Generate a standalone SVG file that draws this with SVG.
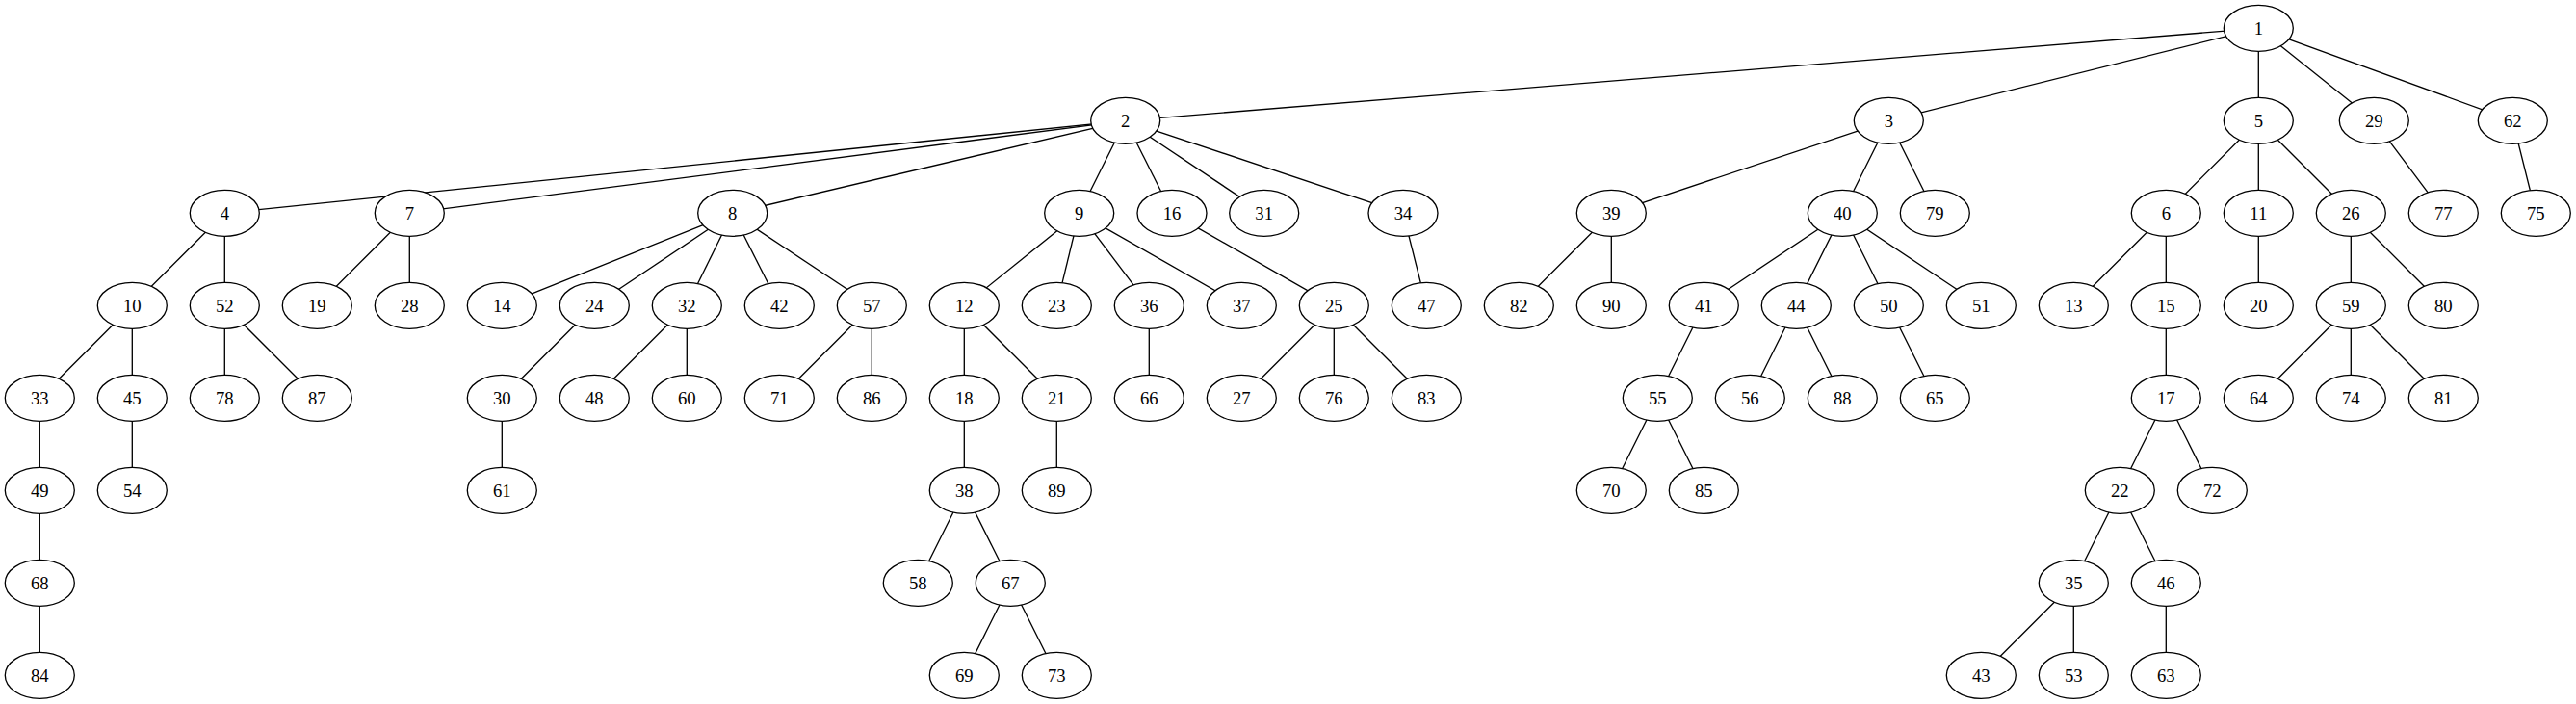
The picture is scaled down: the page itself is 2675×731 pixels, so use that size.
<svg xmlns="http://www.w3.org/2000/svg" width="2675" height="731" viewBox="0 0 2675 731">
<style>
.n ellipse{fill:#fff;stroke:#000;stroke-width:1.33}
.n text{font-family:'Liberation Serif','DejaVu Serif',serif;font-size:18.67px;text-anchor:middle;fill:#000}
#edges line{stroke:#000;stroke-width:1.33}
</style>
<rect width="2675" height="731" fill="#fff"/>
<g id="edges">
<line x1="2345.3" y1="29.3" x2="1168.7" y2="125.3"/>
<line x1="2345.3" y1="29.3" x2="1961.3" y2="125.3"/>
<line x1="2345.3" y1="29.3" x2="2345.3" y2="125.3"/>
<line x1="2345.3" y1="29.3" x2="2465.3" y2="125.3"/>
<line x1="2345.3" y1="29.3" x2="2609.3" y2="125.3"/>
<line x1="1168.7" y1="125.3" x2="233.3" y2="221.3"/>
<line x1="1168.7" y1="125.3" x2="425.3" y2="221.3"/>
<line x1="1168.7" y1="125.3" x2="760.7" y2="221.3"/>
<line x1="1168.7" y1="125.3" x2="1120.7" y2="221.3"/>
<line x1="1168.7" y1="125.3" x2="1217" y2="221.3"/>
<line x1="1168.7" y1="125.3" x2="1312.7" y2="221.3"/>
<line x1="1168.7" y1="125.3" x2="1457" y2="221.3"/>
<line x1="1961.3" y1="125.3" x2="1673.3" y2="221.3"/>
<line x1="1961.3" y1="125.3" x2="1913.3" y2="221.3"/>
<line x1="1961.3" y1="125.3" x2="2009.3" y2="221.3"/>
<line x1="2345.3" y1="125.3" x2="2249.3" y2="221.3"/>
<line x1="2345.3" y1="125.3" x2="2345.3" y2="221.3"/>
<line x1="2345.3" y1="125.3" x2="2441.3" y2="221.3"/>
<line x1="2465.3" y1="125.3" x2="2537.3" y2="221.3"/>
<line x1="2609.3" y1="125.3" x2="2633.3" y2="221.3"/>
<line x1="233.3" y1="221.3" x2="137.3" y2="317.3"/>
<line x1="233.3" y1="221.3" x2="233.3" y2="317.3"/>
<line x1="425.3" y1="221.3" x2="329.3" y2="317.3"/>
<line x1="425.3" y1="221.3" x2="425.3" y2="317.3"/>
<line x1="760.7" y1="221.3" x2="521.3" y2="317.3"/>
<line x1="760.7" y1="221.3" x2="617.3" y2="317.3"/>
<line x1="760.7" y1="221.3" x2="713.3" y2="317.3"/>
<line x1="760.7" y1="221.3" x2="809.3" y2="317.3"/>
<line x1="760.7" y1="221.3" x2="905.3" y2="317.3"/>
<line x1="1120.7" y1="221.3" x2="1001.3" y2="317.3"/>
<line x1="1120.7" y1="221.3" x2="1097.3" y2="317.3"/>
<line x1="1120.7" y1="221.3" x2="1193.3" y2="317.3"/>
<line x1="1120.7" y1="221.3" x2="1289.3" y2="317.3"/>
<line x1="1217" y1="221.3" x2="1385.3" y2="317.3"/>
<line x1="1457" y1="221.3" x2="1481.3" y2="317.3"/>
<line x1="1673.3" y1="221.3" x2="1577.3" y2="317.3"/>
<line x1="1673.3" y1="221.3" x2="1673.3" y2="317.3"/>
<line x1="1913.3" y1="221.3" x2="1769.3" y2="317.3"/>
<line x1="1913.3" y1="221.3" x2="1865.3" y2="317.3"/>
<line x1="1913.3" y1="221.3" x2="1961.3" y2="317.3"/>
<line x1="1913.3" y1="221.3" x2="2057.3" y2="317.3"/>
<line x1="2249.3" y1="221.3" x2="2153.3" y2="317.3"/>
<line x1="2249.3" y1="221.3" x2="2249.3" y2="317.3"/>
<line x1="2345.3" y1="221.3" x2="2345.3" y2="317.3"/>
<line x1="2441.3" y1="221.3" x2="2441.3" y2="317.3"/>
<line x1="2441.3" y1="221.3" x2="2537.3" y2="317.3"/>
<line x1="137.3" y1="317.3" x2="41.3" y2="413.3"/>
<line x1="137.3" y1="317.3" x2="137.3" y2="413.3"/>
<line x1="233.3" y1="317.3" x2="233.3" y2="413.3"/>
<line x1="233.3" y1="317.3" x2="329.3" y2="413.3"/>
<line x1="617.3" y1="317.3" x2="521.3" y2="413.3"/>
<line x1="713.3" y1="317.3" x2="617.3" y2="413.3"/>
<line x1="713.3" y1="317.3" x2="713.3" y2="413.3"/>
<line x1="905.3" y1="317.3" x2="809.3" y2="413.3"/>
<line x1="905.3" y1="317.3" x2="905.3" y2="413.3"/>
<line x1="1001.3" y1="317.3" x2="1001.3" y2="413.3"/>
<line x1="1001.3" y1="317.3" x2="1097.3" y2="413.3"/>
<line x1="1193.3" y1="317.3" x2="1193.3" y2="413.3"/>
<line x1="1385.3" y1="317.3" x2="1289.3" y2="413.3"/>
<line x1="1385.3" y1="317.3" x2="1385.3" y2="413.3"/>
<line x1="1385.3" y1="317.3" x2="1481.3" y2="413.3"/>
<line x1="1769.3" y1="317.3" x2="1721.3" y2="413.3"/>
<line x1="1865.3" y1="317.3" x2="1817.3" y2="413.3"/>
<line x1="1865.3" y1="317.3" x2="1913.3" y2="413.3"/>
<line x1="1961.3" y1="317.3" x2="2009.3" y2="413.3"/>
<line x1="2249.3" y1="317.3" x2="2249.3" y2="413.3"/>
<line x1="2441.3" y1="317.3" x2="2345.3" y2="413.3"/>
<line x1="2441.3" y1="317.3" x2="2441.3" y2="413.3"/>
<line x1="2441.3" y1="317.3" x2="2537.3" y2="413.3"/>
<line x1="41.3" y1="413.3" x2="41.3" y2="509.3"/>
<line x1="137.3" y1="413.3" x2="137.3" y2="509.3"/>
<line x1="521.3" y1="413.3" x2="521.3" y2="509.3"/>
<line x1="1001.3" y1="413.3" x2="1001.3" y2="509.3"/>
<line x1="1097.3" y1="413.3" x2="1097.3" y2="509.3"/>
<line x1="1721.3" y1="413.3" x2="1673.3" y2="509.3"/>
<line x1="1721.3" y1="413.3" x2="1769.3" y2="509.3"/>
<line x1="2249.3" y1="413.3" x2="2201.3" y2="509.3"/>
<line x1="2249.3" y1="413.3" x2="2297.3" y2="509.3"/>
<line x1="41.3" y1="509.3" x2="41.3" y2="605.3"/>
<line x1="1001.3" y1="509.3" x2="953.3" y2="605.3"/>
<line x1="1001.3" y1="509.3" x2="1049.3" y2="605.3"/>
<line x1="2201.3" y1="509.3" x2="2153.3" y2="605.3"/>
<line x1="2201.3" y1="509.3" x2="2249.3" y2="605.3"/>
<line x1="41.3" y1="605.3" x2="41.3" y2="701.3"/>
<line x1="1049.3" y1="605.3" x2="1001.3" y2="701.3"/>
<line x1="1049.3" y1="605.3" x2="1097.3" y2="701.3"/>
<line x1="2153.3" y1="605.3" x2="2057.3" y2="701.3"/>
<line x1="2153.3" y1="605.3" x2="2153.3" y2="701.3"/>
<line x1="2249.3" y1="605.3" x2="2249.3" y2="701.3"/>
</g>
<g id="n1" class="n"><ellipse cx="2345.3" cy="29.3" rx="36" ry="24"/><text x="2345.3" y="35.8">1</text></g>
<g id="n2" class="n"><ellipse cx="1168.7" cy="125.3" rx="36" ry="24"/><text x="1168.7" y="131.8">2</text></g>
<g id="n3" class="n"><ellipse cx="1961.3" cy="125.3" rx="36" ry="24"/><text x="1961.3" y="131.8">3</text></g>
<g id="n5" class="n"><ellipse cx="2345.3" cy="125.3" rx="36" ry="24"/><text x="2345.3" y="131.8">5</text></g>
<g id="n29" class="n"><ellipse cx="2465.3" cy="125.3" rx="36" ry="24"/><text x="2465.3" y="131.8">29</text></g>
<g id="n62" class="n"><ellipse cx="2609.3" cy="125.3" rx="36" ry="24"/><text x="2609.3" y="131.8">62</text></g>
<g id="n4" class="n"><ellipse cx="233.3" cy="221.3" rx="36" ry="24"/><text x="233.3" y="227.8">4</text></g>
<g id="n7" class="n"><ellipse cx="425.3" cy="221.3" rx="36" ry="24"/><text x="425.3" y="227.8">7</text></g>
<g id="n8" class="n"><ellipse cx="760.7" cy="221.3" rx="36" ry="24"/><text x="760.7" y="227.8">8</text></g>
<g id="n9" class="n"><ellipse cx="1120.7" cy="221.3" rx="36" ry="24"/><text x="1120.7" y="227.8">9</text></g>
<g id="n16" class="n"><ellipse cx="1217" cy="221.3" rx="36" ry="24"/><text x="1217" y="227.8">16</text></g>
<g id="n31" class="n"><ellipse cx="1312.7" cy="221.3" rx="36" ry="24"/><text x="1312.7" y="227.8">31</text></g>
<g id="n34" class="n"><ellipse cx="1457" cy="221.3" rx="36" ry="24"/><text x="1457" y="227.8">34</text></g>
<g id="n39" class="n"><ellipse cx="1673.3" cy="221.3" rx="36" ry="24"/><text x="1673.3" y="227.8">39</text></g>
<g id="n40" class="n"><ellipse cx="1913.3" cy="221.3" rx="36" ry="24"/><text x="1913.3" y="227.8">40</text></g>
<g id="n79" class="n"><ellipse cx="2009.3" cy="221.3" rx="36" ry="24"/><text x="2009.3" y="227.8">79</text></g>
<g id="n6" class="n"><ellipse cx="2249.3" cy="221.3" rx="36" ry="24"/><text x="2249.3" y="227.8">6</text></g>
<g id="n11" class="n"><ellipse cx="2345.3" cy="221.3" rx="36" ry="24"/><text x="2345.3" y="227.8">11</text></g>
<g id="n26" class="n"><ellipse cx="2441.3" cy="221.3" rx="36" ry="24"/><text x="2441.3" y="227.8">26</text></g>
<g id="n77" class="n"><ellipse cx="2537.3" cy="221.3" rx="36" ry="24"/><text x="2537.3" y="227.8">77</text></g>
<g id="n75" class="n"><ellipse cx="2633.3" cy="221.3" rx="36" ry="24"/><text x="2633.3" y="227.8">75</text></g>
<g id="n10" class="n"><ellipse cx="137.3" cy="317.3" rx="36" ry="24"/><text x="137.3" y="323.8">10</text></g>
<g id="n52" class="n"><ellipse cx="233.3" cy="317.3" rx="36" ry="24"/><text x="233.3" y="323.8">52</text></g>
<g id="n19" class="n"><ellipse cx="329.3" cy="317.3" rx="36" ry="24"/><text x="329.3" y="323.8">19</text></g>
<g id="n28" class="n"><ellipse cx="425.3" cy="317.3" rx="36" ry="24"/><text x="425.3" y="323.8">28</text></g>
<g id="n14" class="n"><ellipse cx="521.3" cy="317.3" rx="36" ry="24"/><text x="521.3" y="323.8">14</text></g>
<g id="n24" class="n"><ellipse cx="617.3" cy="317.3" rx="36" ry="24"/><text x="617.3" y="323.8">24</text></g>
<g id="n32" class="n"><ellipse cx="713.3" cy="317.3" rx="36" ry="24"/><text x="713.3" y="323.8">32</text></g>
<g id="n42" class="n"><ellipse cx="809.3" cy="317.3" rx="36" ry="24"/><text x="809.3" y="323.8">42</text></g>
<g id="n57" class="n"><ellipse cx="905.3" cy="317.3" rx="36" ry="24"/><text x="905.3" y="323.8">57</text></g>
<g id="n12" class="n"><ellipse cx="1001.3" cy="317.3" rx="36" ry="24"/><text x="1001.3" y="323.8">12</text></g>
<g id="n23" class="n"><ellipse cx="1097.3" cy="317.3" rx="36" ry="24"/><text x="1097.3" y="323.8">23</text></g>
<g id="n36" class="n"><ellipse cx="1193.3" cy="317.3" rx="36" ry="24"/><text x="1193.3" y="323.8">36</text></g>
<g id="n37" class="n"><ellipse cx="1289.3" cy="317.3" rx="36" ry="24"/><text x="1289.3" y="323.8">37</text></g>
<g id="n25" class="n"><ellipse cx="1385.3" cy="317.3" rx="36" ry="24"/><text x="1385.3" y="323.8">25</text></g>
<g id="n47" class="n"><ellipse cx="1481.3" cy="317.3" rx="36" ry="24"/><text x="1481.3" y="323.8">47</text></g>
<g id="n82" class="n"><ellipse cx="1577.3" cy="317.3" rx="36" ry="24"/><text x="1577.3" y="323.8">82</text></g>
<g id="n90" class="n"><ellipse cx="1673.3" cy="317.3" rx="36" ry="24"/><text x="1673.3" y="323.8">90</text></g>
<g id="n41" class="n"><ellipse cx="1769.3" cy="317.3" rx="36" ry="24"/><text x="1769.3" y="323.8">41</text></g>
<g id="n44" class="n"><ellipse cx="1865.3" cy="317.3" rx="36" ry="24"/><text x="1865.3" y="323.8">44</text></g>
<g id="n50" class="n"><ellipse cx="1961.3" cy="317.3" rx="36" ry="24"/><text x="1961.3" y="323.8">50</text></g>
<g id="n51" class="n"><ellipse cx="2057.3" cy="317.3" rx="36" ry="24"/><text x="2057.3" y="323.8">51</text></g>
<g id="n13" class="n"><ellipse cx="2153.3" cy="317.3" rx="36" ry="24"/><text x="2153.3" y="323.8">13</text></g>
<g id="n15" class="n"><ellipse cx="2249.3" cy="317.3" rx="36" ry="24"/><text x="2249.3" y="323.8">15</text></g>
<g id="n20" class="n"><ellipse cx="2345.3" cy="317.3" rx="36" ry="24"/><text x="2345.3" y="323.8">20</text></g>
<g id="n59" class="n"><ellipse cx="2441.3" cy="317.3" rx="36" ry="24"/><text x="2441.3" y="323.8">59</text></g>
<g id="n80" class="n"><ellipse cx="2537.3" cy="317.3" rx="36" ry="24"/><text x="2537.3" y="323.8">80</text></g>
<g id="n33" class="n"><ellipse cx="41.3" cy="413.3" rx="36" ry="24"/><text x="41.3" y="419.8">33</text></g>
<g id="n45" class="n"><ellipse cx="137.3" cy="413.3" rx="36" ry="24"/><text x="137.3" y="419.8">45</text></g>
<g id="n78" class="n"><ellipse cx="233.3" cy="413.3" rx="36" ry="24"/><text x="233.3" y="419.8">78</text></g>
<g id="n87" class="n"><ellipse cx="329.3" cy="413.3" rx="36" ry="24"/><text x="329.3" y="419.8">87</text></g>
<g id="n30" class="n"><ellipse cx="521.3" cy="413.3" rx="36" ry="24"/><text x="521.3" y="419.8">30</text></g>
<g id="n48" class="n"><ellipse cx="617.3" cy="413.3" rx="36" ry="24"/><text x="617.3" y="419.8">48</text></g>
<g id="n60" class="n"><ellipse cx="713.3" cy="413.3" rx="36" ry="24"/><text x="713.3" y="419.8">60</text></g>
<g id="n71" class="n"><ellipse cx="809.3" cy="413.3" rx="36" ry="24"/><text x="809.3" y="419.8">71</text></g>
<g id="n86" class="n"><ellipse cx="905.3" cy="413.3" rx="36" ry="24"/><text x="905.3" y="419.8">86</text></g>
<g id="n18" class="n"><ellipse cx="1001.3" cy="413.3" rx="36" ry="24"/><text x="1001.3" y="419.8">18</text></g>
<g id="n21" class="n"><ellipse cx="1097.3" cy="413.3" rx="36" ry="24"/><text x="1097.3" y="419.8">21</text></g>
<g id="n66" class="n"><ellipse cx="1193.3" cy="413.3" rx="36" ry="24"/><text x="1193.3" y="419.8">66</text></g>
<g id="n27" class="n"><ellipse cx="1289.3" cy="413.3" rx="36" ry="24"/><text x="1289.3" y="419.8">27</text></g>
<g id="n76" class="n"><ellipse cx="1385.3" cy="413.3" rx="36" ry="24"/><text x="1385.3" y="419.8">76</text></g>
<g id="n83" class="n"><ellipse cx="1481.3" cy="413.3" rx="36" ry="24"/><text x="1481.3" y="419.8">83</text></g>
<g id="n55" class="n"><ellipse cx="1721.3" cy="413.3" rx="36" ry="24"/><text x="1721.3" y="419.8">55</text></g>
<g id="n56" class="n"><ellipse cx="1817.3" cy="413.3" rx="36" ry="24"/><text x="1817.3" y="419.8">56</text></g>
<g id="n88" class="n"><ellipse cx="1913.3" cy="413.3" rx="36" ry="24"/><text x="1913.3" y="419.8">88</text></g>
<g id="n65" class="n"><ellipse cx="2009.3" cy="413.3" rx="36" ry="24"/><text x="2009.3" y="419.8">65</text></g>
<g id="n17" class="n"><ellipse cx="2249.3" cy="413.3" rx="36" ry="24"/><text x="2249.3" y="419.8">17</text></g>
<g id="n64" class="n"><ellipse cx="2345.3" cy="413.3" rx="36" ry="24"/><text x="2345.3" y="419.8">64</text></g>
<g id="n74" class="n"><ellipse cx="2441.3" cy="413.3" rx="36" ry="24"/><text x="2441.3" y="419.8">74</text></g>
<g id="n81" class="n"><ellipse cx="2537.3" cy="413.3" rx="36" ry="24"/><text x="2537.3" y="419.8">81</text></g>
<g id="n49" class="n"><ellipse cx="41.3" cy="509.3" rx="36" ry="24"/><text x="41.3" y="515.8">49</text></g>
<g id="n54" class="n"><ellipse cx="137.3" cy="509.3" rx="36" ry="24"/><text x="137.3" y="515.8">54</text></g>
<g id="n61" class="n"><ellipse cx="521.3" cy="509.3" rx="36" ry="24"/><text x="521.3" y="515.8">61</text></g>
<g id="n38" class="n"><ellipse cx="1001.3" cy="509.3" rx="36" ry="24"/><text x="1001.3" y="515.8">38</text></g>
<g id="n89" class="n"><ellipse cx="1097.3" cy="509.3" rx="36" ry="24"/><text x="1097.3" y="515.8">89</text></g>
<g id="n70" class="n"><ellipse cx="1673.3" cy="509.3" rx="36" ry="24"/><text x="1673.3" y="515.8">70</text></g>
<g id="n85" class="n"><ellipse cx="1769.3" cy="509.3" rx="36" ry="24"/><text x="1769.3" y="515.8">85</text></g>
<g id="n22" class="n"><ellipse cx="2201.3" cy="509.3" rx="36" ry="24"/><text x="2201.3" y="515.8">22</text></g>
<g id="n72" class="n"><ellipse cx="2297.3" cy="509.3" rx="36" ry="24"/><text x="2297.3" y="515.8">72</text></g>
<g id="n68" class="n"><ellipse cx="41.3" cy="605.3" rx="36" ry="24"/><text x="41.3" y="611.8">68</text></g>
<g id="n58" class="n"><ellipse cx="953.3" cy="605.3" rx="36" ry="24"/><text x="953.3" y="611.8">58</text></g>
<g id="n67" class="n"><ellipse cx="1049.3" cy="605.3" rx="36" ry="24"/><text x="1049.3" y="611.8">67</text></g>
<g id="n35" class="n"><ellipse cx="2153.3" cy="605.3" rx="36" ry="24"/><text x="2153.3" y="611.8">35</text></g>
<g id="n46" class="n"><ellipse cx="2249.3" cy="605.3" rx="36" ry="24"/><text x="2249.3" y="611.8">46</text></g>
<g id="n84" class="n"><ellipse cx="41.3" cy="701.3" rx="36" ry="24"/><text x="41.3" y="707.8">84</text></g>
<g id="n69" class="n"><ellipse cx="1001.3" cy="701.3" rx="36" ry="24"/><text x="1001.3" y="707.8">69</text></g>
<g id="n73" class="n"><ellipse cx="1097.3" cy="701.3" rx="36" ry="24"/><text x="1097.3" y="707.8">73</text></g>
<g id="n43" class="n"><ellipse cx="2057.3" cy="701.3" rx="36" ry="24"/><text x="2057.3" y="707.8">43</text></g>
<g id="n53" class="n"><ellipse cx="2153.3" cy="701.3" rx="36" ry="24"/><text x="2153.3" y="707.8">53</text></g>
<g id="n63" class="n"><ellipse cx="2249.3" cy="701.3" rx="36" ry="24"/><text x="2249.3" y="707.8">63</text></g>
</svg>
